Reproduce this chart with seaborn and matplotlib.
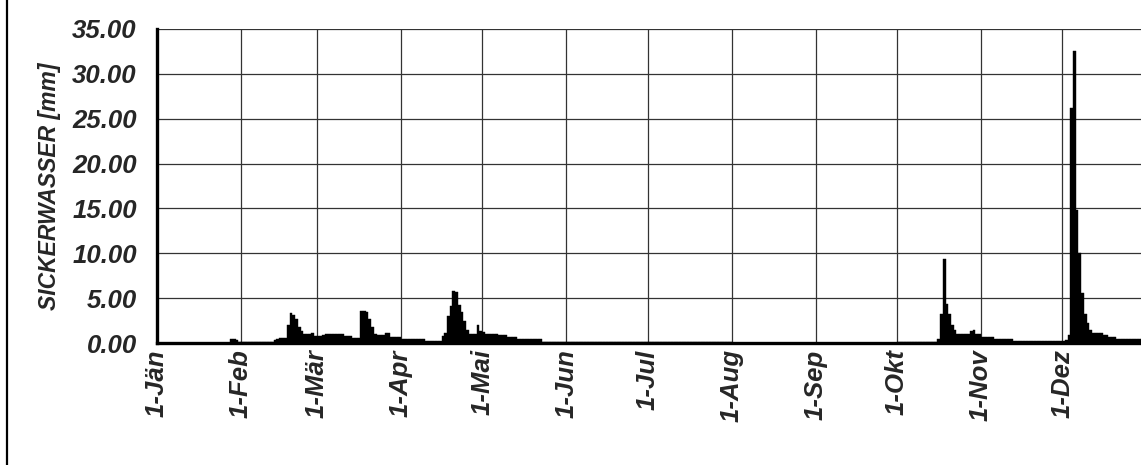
import matplotlib
matplotlib.use('Agg')
import matplotlib.pyplot as plt
import matplotlib.patches as mpatches
import numpy as np
import pandas as pd
import seaborn as sns

# daily seepage water (mm), one list per month
jan = [0.05, 0.05, 0.05, 0.05, 0.05, 0.05, 0.05, 0.05, 0.05, 0.05,
       0.05, 0.05, 0.05, 0.05, 0.05, 0.05, 0.05, 0.05, 0.05, 0.05,
       0.05, 0.05, 0.05, 0.05, 0.05, 0.05, 0.05, 0.40, 0.45, 0.30, 0.12]
feb = [0.12, 0.12, 0.12, 0.12, 0.12, 0.12, 0.12, 0.12, 0.12, 0.12,
       0.12, 0.12, 0.30, 0.40, 0.55, 0.55, 0.55, 2.00, 3.30, 3.10,
       2.70, 1.80, 1.30, 1.00, 1.00, 1.00, 1.15, 0.80]
mar = [0.80, 0.80, 0.90, 1.00, 1.00, 1.00, 1.00, 1.00, 1.00, 1.00,
       0.80, 0.80, 0.80, 0.60, 0.60, 0.60, 3.60, 3.60, 3.40, 2.70,
       1.80, 1.00, 0.85, 0.85, 0.85, 1.15, 1.15, 0.65, 0.65, 0.65, 0.65]
apr = [0.50, 0.50, 0.50, 0.50, 0.50, 0.50, 0.50, 0.50, 0.50, 0.20,
       0.20, 0.20, 0.20, 0.20, 0.20, 0.80, 1.10, 3.00, 4.10, 5.80,
       5.70, 4.20, 3.50, 2.40, 1.40, 1.00, 1.00, 1.00, 2.00, 1.30]
mai = [1.20, 1.00, 1.00, 1.00, 1.00, 1.00, 0.85, 0.85, 0.85, 0.65,
       0.65, 0.65, 0.65, 0.40, 0.40, 0.40, 0.40, 0.40, 0.40, 0.40,
       0.40, 0.40, 0.15, 0.15, 0.15, 0.15, 0.15, 0.15, 0.15, 0.15, 0.15]
jun = [0.12, 0.12, 0.12, 0.12, 0.12, 0.12, 0.12, 0.12, 0.12, 0.12,
       0.12, 0.12, 0.12, 0.12, 0.12, 0.08, 0.08, 0.08, 0.08, 0.08,
       0.08, 0.08, 0.08, 0.08, 0.08, 0.08, 0.08, 0.08, 0.08, 0.08]
jul = [0.06, 0.06, 0.06, 0.06, 0.06, 0.06, 0.06, 0.06, 0.06, 0.06,
       0.06, 0.06, 0.06, 0.06, 0.06, 0.06, 0.06, 0.06, 0.06, 0.06,
       0.06, 0.06, 0.06, 0.06, 0.06, 0.06, 0.06, 0.06, 0.06, 0.06, 0.06]
aug = [0.05, 0.05, 0.05, 0.05, 0.05, 0.05, 0.05, 0.05, 0.05, 0.05,
       0.05, 0.05, 0.05, 0.05, 0.05, 0.05, 0.05, 0.05, 0.05, 0.05,
       0.05, 0.05, 0.05, 0.05, 0.05, 0.05, 0.05, 0.05, 0.05, 0.05, 0.05]
sep = [0.05, 0.05, 0.05, 0.05, 0.05, 0.05, 0.05, 0.05, 0.05, 0.05,
       0.05, 0.05, 0.05, 0.05, 0.05, 0.05, 0.05, 0.05, 0.05, 0.05,
       0.05, 0.05, 0.05, 0.05, 0.05, 0.05, 0.05, 0.05, 0.05, 0.05]
okt = [0.10, 0.10, 0.10, 0.10, 0.10, 0.10, 0.10, 0.10, 0.10, 0.10,
       0.10, 0.10, 0.10, 0.10, 0.10, 0.50, 3.20, 9.40, 4.40, 3.20,
       2.00, 1.50, 1.05, 1.05, 1.05, 1.05, 1.05, 1.30, 1.40, 0.95, 0.95]
nov = [0.65, 0.65, 0.65, 0.65, 0.65, 0.40, 0.40, 0.40, 0.40, 0.40,
       0.40, 0.40, 0.20, 0.20, 0.20, 0.20, 0.20, 0.20, 0.20, 0.20,
       0.20, 0.20, 0.20, 0.20, 0.20, 0.20, 0.20, 0.20, 0.20, 0.20]
dez = [0.20, 0.35, 0.85, 26.20, 32.50, 14.80, 10.00, 5.60, 3.20, 2.20,
       1.50, 1.10, 1.10, 1.10, 1.10, 0.85, 0.85, 0.63, 0.63, 0.63,
       0.45, 0.45, 0.45, 0.45, 0.45, 0.45, 0.45, 0.45, 0.45, 0.45, 0.45]

month_labels = ['1-Jän', '1-Feb', '1-Mär', '1-Apr', '1-Mai', '1-Jun',
                '1-Jul', '1-Aug', '1-Sep', '1-Okt', '1-Nov', '1-Dez']
months = [jan, feb, mar, apr, mai, jun, jul, aug, sep, okt, nov, dez]

values = [v for m in months for v in m]
df = pd.DataFrame({'day': np.arange(len(values)), 'mm': values})
month_start = np.cumsum([0] + [len(m) for m in months[:-1]])

sns.set_style('white')
plt.rcParams['font.family'] = ['Liberation Sans', 'DejaVu Sans']

fig = plt.figure(figsize=(11.41, 4.65), dpi=100)
ax = fig.add_axes([157/1141, 1-343/465, 1-157/1141, (343-29)/465])

sns.barplot(data=df, x='day', y='mm', color='black', width=1.0,
            errorbar=None, linewidth=0.3, edgecolor='black', ax=ax)

ax.set_ylim(0, 35)
ax.set_xlim(-0.5, 362.6)
ax.set_yticks(np.arange(0, 35.1, 5))
ax.set_yticklabels([f'{t:.2f}' for t in np.arange(0, 35.1, 5)])
ax.set_xticks(month_start - 0.5)
ax.set_xticklabels(month_labels, rotation=90)
ax.grid(True, color='#333333', linewidth=0.9)
ax.set_axisbelow(True)

for s in ['top', 'right']:
    ax.spines[s].set_visible(False)
for s in ['left', 'bottom']:
    ax.spines[s].set_linewidth(2.4)
    ax.spines[s].set_color('black')

ax.tick_params(axis='y', direction='inout', length=11, width=2, pad=9)
ax.tick_params(axis='x', direction='inout', length=13, width=2, pad=-2)
for lab in ax.get_yticklabels() + ax.get_xticklabels():
    lab.set_fontsize(18.5)
    lab.set_fontweight('bold')
    lab.set_fontstyle('italic')

ax.set_xlabel('')
ax.set_ylabel('SICKERWASSER [mm]', fontsize=16.5, fontweight='bold',
              fontstyle='italic', labelpad=8)

# outer chart border (only the left edge is inside the picture)
fig.add_artist(mpatches.Rectangle((7/1141, -0.05), 1.2, 1.2, fill=False,
                                  edgecolor='black', linewidth=1.6,
                                  transform=fig.transFigure))

fig.savefig('out.png', dpi=100)
